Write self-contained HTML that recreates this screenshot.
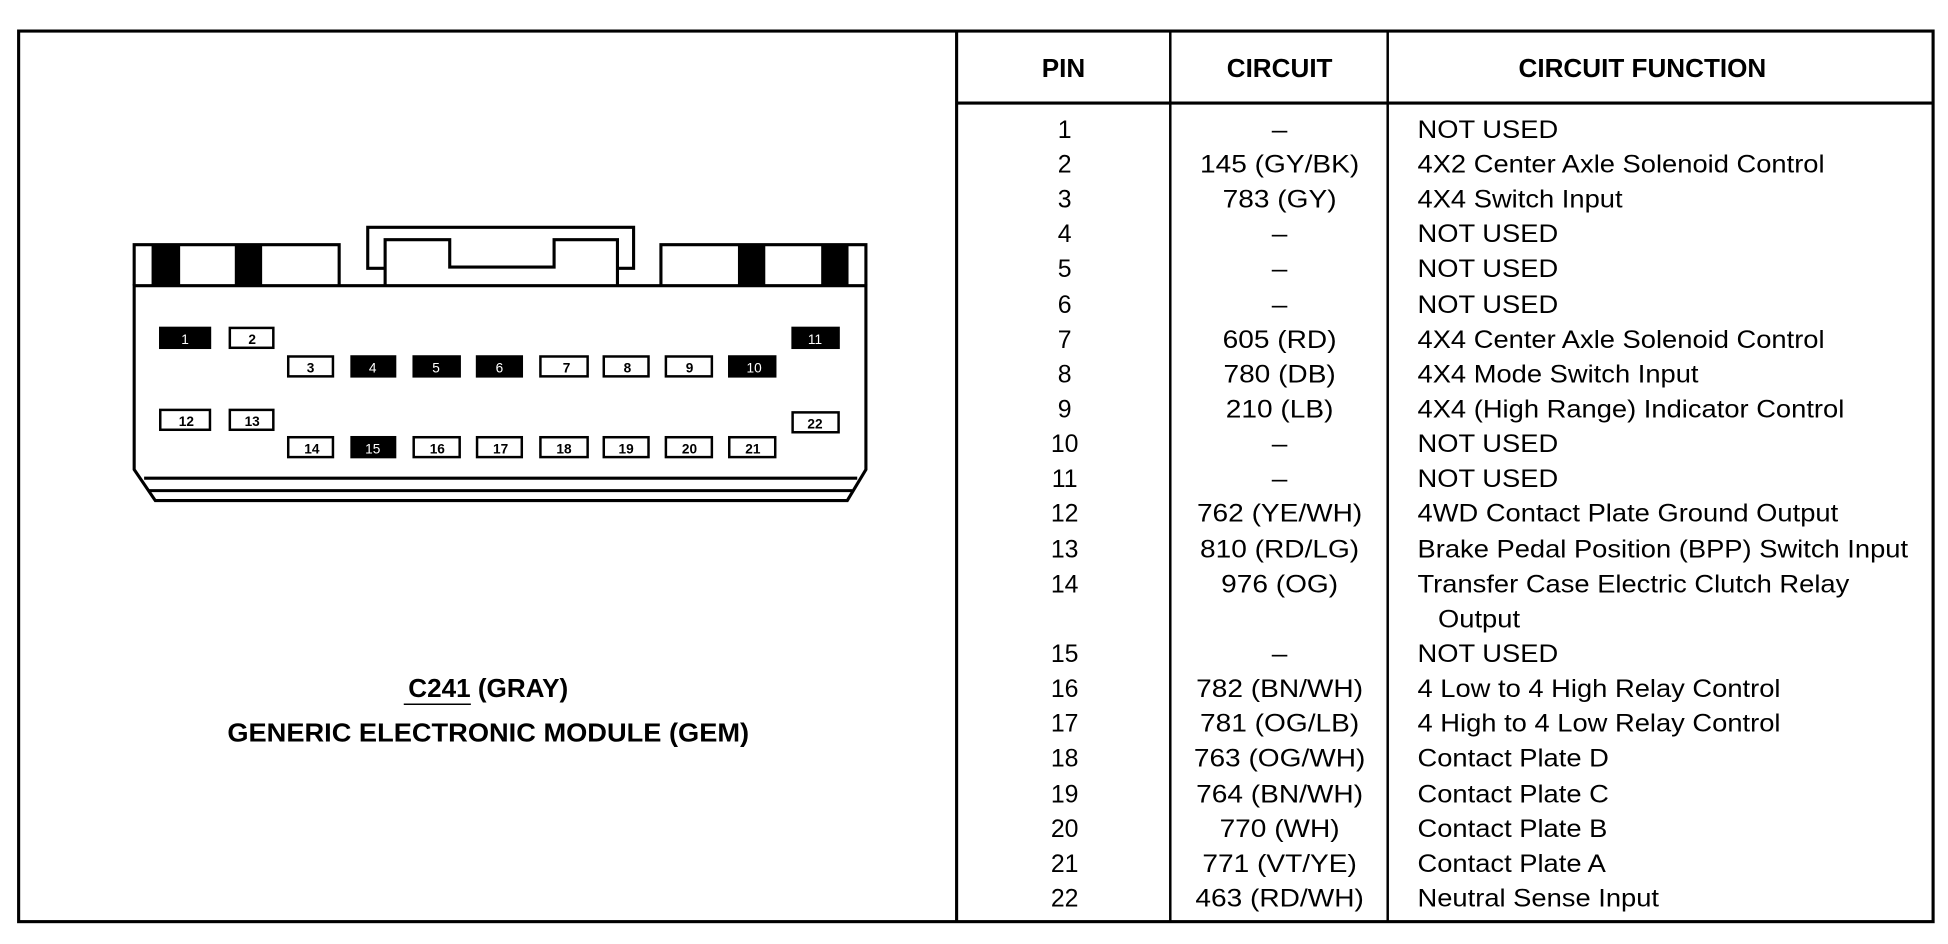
<!DOCTYPE html>
<html><head><meta charset="utf-8"><style>
html,body{margin:0;padding:0;background:#fff}
svg{display:block}
text{font-family:"Liberation Sans",Arial,sans-serif;fill:#000}
</style></head><body>
<svg width="1948" height="944" viewBox="0 0 1568 760" preserveAspectRatio="none" xmlns="http://www.w3.org/2000/svg">
<rect x="0" y="0" width="1568" height="760" fill="#fff"/>
<rect x="15" y="25" width="1541" height="717" fill="none" stroke="#000" stroke-width="2.5"/>
<line x1="770" y1="25" x2="770" y2="742" stroke="#000" stroke-width="2.5"/>
<line x1="942" y1="25" x2="942" y2="742" stroke="#000" stroke-width="2"/>
<line x1="1117" y1="25" x2="1117" y2="742" stroke="#000" stroke-width="2"/>
<line x1="770" y1="83" x2="1556" y2="83" stroke="#000" stroke-width="2.5"/>
<g font-weight="bold" font-size="21" text-anchor="middle">
<text x="856" y="62">PIN</text>
<text x="1030" y="62">CIRCUIT</text>
<text x="1322" y="62">CIRCUIT FUNCTION</text>
</g>
<g font-size="20">
<g text-anchor="middle">
<text x="857" y="111">1</text>
<text x="857" y="139">2</text>
<text x="857" y="167">3</text>
<text x="857" y="195">4</text>
<text x="857" y="223">5</text>
<text x="857" y="252">6</text>
<text x="857" y="280">7</text>
<text x="857" y="308">8</text>
<text x="857" y="336">9</text>
<text x="857" y="364">10</text>
<text x="857" y="392">11</text>
<text x="857" y="420">12</text>
<text x="857" y="449">13</text>
<text x="857" y="477">14</text>
<text x="857" y="533">15</text>
<text x="857" y="561">16</text>
<text x="857" y="589">17</text>
<text x="857" y="617">18</text>
<text x="857" y="646">19</text>
<text x="857" y="674">20</text>
<text x="857" y="702">21</text>
<text x="857" y="730">22</text>
</g>
<g text-anchor="middle" transform="translate(1030,0) scale(1.13,1) translate(-1030,0)">
<text x="1030" y="111">–</text>
<text x="1030" y="139">145 (GY/BK)</text>
<text x="1030" y="167">783 (GY)</text>
<text x="1030" y="195">–</text>
<text x="1030" y="223">–</text>
<text x="1030" y="252">–</text>
<text x="1030" y="280">605 (RD)</text>
<text x="1030" y="308">780 (DB)</text>
<text x="1030" y="336">210 (LB)</text>
<text x="1030" y="364">–</text>
<text x="1030" y="392">–</text>
<text x="1030" y="420">762 (YE/WH)</text>
<text x="1030" y="449">810 (RD/LG)</text>
<text x="1030" y="477">976 (OG)</text>
<text x="1030" y="533">–</text>
<text x="1030" y="561">782 (BN/WH)</text>
<text x="1030" y="589">781 (OG/LB)</text>
<text x="1030" y="617">763 (OG/WH)</text>
<text x="1030" y="646">764 (BN/WH)</text>
<text x="1030" y="674">770 (WH)</text>
<text x="1030" y="702">771 (VT/YE)</text>
<text x="1030" y="730">463 (RD/WH)</text>
</g>
<g transform="translate(1141,0) scale(1.1,1) translate(-1141,0)">
<text x="1141" y="111">NOT USED</text>
<text x="1141" y="139">4X2 Center Axle Solenoid Control</text>
<text x="1141" y="167">4X4 Switch Input</text>
<text x="1141" y="195">NOT USED</text>
<text x="1141" y="223">NOT USED</text>
<text x="1141" y="252">NOT USED</text>
<text x="1141" y="280">4X4 Center Axle Solenoid Control</text>
<text x="1141" y="308">4X4 Mode Switch Input</text>
<text x="1141" y="336">4X4 (High Range) Indicator Control</text>
<text x="1141" y="364">NOT USED</text>
<text x="1141" y="392">NOT USED</text>
<text x="1141" y="420">4WD Contact Plate Ground Output</text>
<text x="1141" y="449">Brake Pedal Position (BPP) Switch Input</text>
<text x="1141" y="477">Transfer Case Electric Clutch Relay</text>
<text x="1156" y="505">Output</text>
<text x="1141" y="533">NOT USED</text>
<text x="1141" y="561">4 Low to 4 High Relay Control</text>
<text x="1141" y="589">4 High to 4 Low Relay Control</text>
<text x="1141" y="617">Contact Plate D</text>
<text x="1141" y="646">Contact Plate C</text>
<text x="1141" y="674">Contact Plate B</text>
<text x="1141" y="702">Contact Plate A</text>
<text x="1141" y="730">Neutral Sense Input</text>
</g>
</g>

<g stroke="#000" fill="none" stroke-width="2.5">
<path d="M310 216 L296 216 L296 183 L510 183 L510 216 L497 216"/>
<path d="M310 230 L310 193 L362 193 L362 215 L446 215 L446 193 L497 193 L497 230"/>
<path d="M108 230 L108 197 L273 197 L273 230"/>
<path d="M532 230 L532 197 L697 197 L697 230"/>
<path d="M108 230 L697 230 L697 378 L682 403 L125 403 L108 378 Z"/>
<line x1="116" y1="385" x2="690" y2="385"/>
<line x1="120" y1="395" x2="686" y2="395"/>
</g>
<g fill="#000">
<rect x="122" y="197" width="23" height="33"/>
<rect x="189" y="197" width="22" height="33"/>
<rect x="594" y="197" width="22" height="33"/>
<rect x="661" y="197" width="22" height="33"/>
</g>
<g stroke="#000" stroke-width="2" font-size="11" text-anchor="middle">
<rect x="129" y="264" width="40" height="16" fill="#000"/><text x="149" y="277" style="fill:#fff" stroke="none">1</text>
<rect x="185" y="264" width="35" height="16" fill="#fff"/><text x="203" y="277" stroke="none" font-weight="bold">2</text>
<rect x="638" y="264" width="37" height="16" fill="#000"/><text x="656" y="277" style="fill:#fff" stroke="none">11</text>
<rect x="232" y="287" width="36" height="16" fill="#fff"/><text x="250" y="300" stroke="none" font-weight="bold">3</text>
<rect x="283" y="287" width="35" height="16" fill="#000"/><text x="300" y="300" style="fill:#fff" stroke="none">4</text>
<rect x="333" y="287" width="37" height="16" fill="#000"/><text x="351" y="300" style="fill:#fff" stroke="none">5</text>
<rect x="384" y="287" width="36" height="16" fill="#000"/><text x="402" y="300" style="fill:#fff" stroke="none">6</text>
<rect x="435" y="287" width="38" height="16" fill="#fff"/><text x="456" y="300" stroke="none" font-weight="bold">7</text>
<rect x="486" y="287" width="36" height="16" fill="#fff"/><text x="505" y="300" stroke="none" font-weight="bold">8</text>
<rect x="536" y="287" width="37" height="16" fill="#fff"/><text x="555" y="300" stroke="none" font-weight="bold">9</text>
<rect x="587" y="287" width="37" height="16" fill="#000"/><text x="607" y="300" style="fill:#fff" stroke="none">10</text>
<rect x="129" y="330" width="40" height="16" fill="#fff"/><text x="150" y="343" stroke="none" font-weight="bold">12</text>
<rect x="185" y="330" width="35" height="16" fill="#fff"/><text x="203" y="343" stroke="none" font-weight="bold">13</text>
<rect x="638" y="332" width="37" height="16" fill="#fff"/><text x="656" y="345" stroke="none" font-weight="bold">22</text>
<rect x="232" y="352" width="36" height="16" fill="#fff"/><text x="251" y="365" stroke="none" font-weight="bold">14</text>
<rect x="283" y="352" width="35" height="16" fill="#000"/><text x="300" y="365" style="fill:#fff" stroke="none">15</text>
<rect x="333" y="352" width="37" height="16" fill="#fff"/><text x="352" y="365" stroke="none" font-weight="bold">16</text>
<rect x="384" y="352" width="36" height="16" fill="#fff"/><text x="403" y="365" stroke="none" font-weight="bold">17</text>
<rect x="435" y="352" width="38" height="16" fill="#fff"/><text x="454" y="365" stroke="none" font-weight="bold">18</text>
<rect x="486" y="352" width="36" height="16" fill="#fff"/><text x="504" y="365" stroke="none" font-weight="bold">19</text>
<rect x="536" y="352" width="37" height="16" fill="#fff"/><text x="555" y="365" stroke="none" font-weight="bold">20</text>
<rect x="587" y="352" width="37" height="16" fill="#fff"/><text x="606" y="365" stroke="none" font-weight="bold">21</text>
</g>
<g font-weight="bold" font-size="21" text-anchor="middle">
<text x="393" y="561">C241 (GRAY)</text>
<text x="393" y="597" textLength="420" lengthAdjust="spacingAndGlyphs">GENERIC ELECTRONIC MODULE (GEM)</text>
</g>
<line x1="325" y1="567" x2="379" y2="567" stroke="#000" stroke-width="1.2"/>
</svg>
</body></html>
